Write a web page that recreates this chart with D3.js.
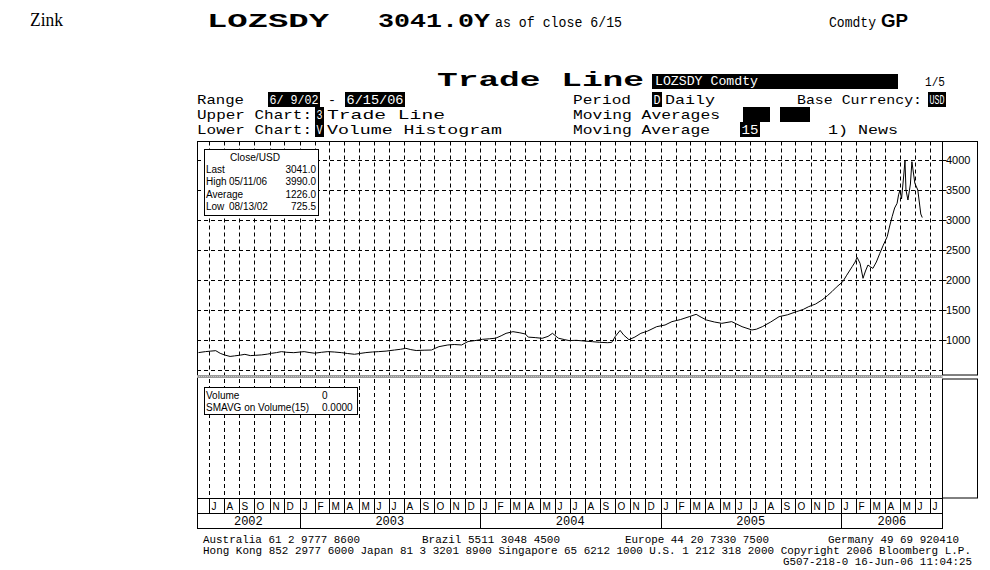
<!DOCTYPE html>
<html><head><meta charset="utf-8">
<script src="https://cdn.jsdelivr.net/npm/d3@7"></script>
<style>body{margin:0;background:#fff}svg{display:block}</style>
</head><body>
<svg id="c" width="990" height="570"></svg>
<script>
// ---------------- DATA ----------------
const dates = ["2002-06-10","2002-06-24","2002-07-05","2002-07-15","2002-07-24","2002-08-02","2002-08-13","2002-08-22","2002-09-03","2002-09-12","2002-09-23","2002-10-04","2002-10-16","2002-10-28","2002-11-05","2002-11-15","2002-11-25","2002-12-06","2002-12-20","2003-01-10","2003-01-20","2003-01-31","2003-02-14","2003-02-27","2003-03-12","2003-03-27","2003-04-08","2003-04-22","2003-05-05","2003-05-15","2003-05-28","2003-06-10","2003-06-25","2003-07-12","2003-07-24","2003-08-04","2003-08-14","2003-08-25","2003-09-10","2003-09-25","2003-10-02","2003-10-10","2003-10-28","2003-11-10","2003-11-25","2003-12-08","2003-12-22","2004-01-06","2004-01-20","2004-02-02","2004-02-13","2004-02-23","2004-03-08","2004-03-22","2004-04-02","2004-04-08","2004-04-22","2004-05-06","2004-05-18","2004-05-27","2004-06-08","2004-06-21","2004-06-30","2004-07-14","2004-07-28","2004-08-16","2004-08-30","2004-09-15","2004-09-24","2004-10-01","2004-10-11","2004-10-18","2004-10-29","2004-11-10","2004-11-22","2004-12-06","2004-12-24","2005-01-10","2005-01-24","2005-02-10","2005-02-28","2005-03-14","2005-03-24","2005-04-04","2005-04-20","2005-05-05","2005-05-25","2005-06-15","2005-07-05","2005-07-14","2005-07-26","2005-08-12","2005-08-29","2005-09-15","2005-10-03","2005-10-17","2005-10-28","2005-11-11","2005-11-24","2005-12-05","2005-12-14","2005-12-23","2006-01-05","2006-01-13","2006-01-24","2006-01-30","2006-02-03","2006-02-09","2006-02-15","2006-02-20","2006-02-25","2006-03-02","2006-03-07","2006-03-14","2006-03-21","2006-03-28","2006-04-05","2006-04-10","2006-04-15","2006-04-20","2006-04-25","2006-04-28","2006-05-01","2006-05-04","2006-05-08","2006-05-11","2006-05-13","2006-05-17","2006-05-22","2006-05-25","2006-05-31","2006-06-06","2006-06-12","2006-06-15"];
const closes = [790,806,815,822,778,750,726,735,748,761,740,745,752,765,778,790,806,795,789,806,792,780,795,806,800,789,775,762,778,790,800,806,815,833,845,861,840,825,830,833,860,889,917,925,917,975,990,1011,1020,1030,1070,1111,1139,1120,1100,1048,1040,1028,1060,1111,1030,1005,990,995,985,972,962,955,960,1056,1160,1085,1005,1050,1111,1150,1222,1250,1306,1340,1389,1428,1380,1333,1300,1278,1306,1222,1167,1180,1222,1300,1389,1420,1472,1510,1556,1600,1667,1740,1806,1880,1972,2080,2222,2300,2378,2278,2028,2150,2250,2220,2194,2300,2444,2580,2722,2900,3056,3200,3278,3420,3500,3350,3700,3990,3500,3333,3600,3972,3611,3500,3100,3041];
const yTickValues = [1000,1500,2000,2500,3000,3500,4000];
const gridValues = [500,1000,1500,2000,2500,3000,3500,4000];
const yearLabels = ["2002","2003","2004","2005","2006"];
const monthLetters = ["J","F","M","A","M","J","J","A","S","O","N","D"];
const priceLegendTitle = "Close/USD";
const priceLegendRows = [["Last","","3041.0"],["High","05/11/06","3990.0"],["Average","","1226.0"],["Low","08/13/02","725.5"]];
const volLegendRows = [["Volume","0"],["SMAVG on Volume(15)","0.0000"]];
const footerLines = [
  {t:"Australia 61 2 9777 8600", x:203, len:157, row:0},
  {t:"Brazil 5511 3048 4500", x:422, len:138, row:0},
  {t:"Europe 44 20 7330 7500", x:625, len:144, row:0},
  {t:"Germany 49 69 920410", x:828, len:131, row:0},
  {t:"Hong Kong 852 2977 6000 Japan 81 3 3201 8900 Singapore 65 6212 1000 U.S. 1 212 318 2000 Copyright 2006 Bloomberg L.P.", x:203, len:768, row:1},
  {t:"G507-218-0 16-Jun-06 11:04:25", x:783, len:189, row:2}
];

// ---------------- SETUP ----------------
const svg = d3.select("#c");
svg.append("rect").attr("width",990).attr("height",570).attr("fill","#fff");
const parse = d3.timeParse("%Y-%m-%d");
const series = dates.map((d,i)=>({date:parse(d), v:closes[i]}));

const L = 197, R = 942.5, TOP = 141.5, UB = 375, LT = 379, MB = 498, YB = 513, YE = 528;
const x = d3.scaleTime().domain([new Date(2002,5,7), new Date(2006,6,27)]).range([L, 943]);
const y = d3.scaleLinear().domain([500,4000]).range([370,160]);

const mono = "'Liberation Mono','DejaVu Sans Mono',monospace";
const sans = "'Liberation Sans',Arial,sans-serif";

function txt(g, s, xx, yy, o={}) {
  const t = g.append("text").attr("x",xx).attr("y",yy).text(s)
    .attr("font-family", o.family||mono).attr("font-size", o.size||13)
    .attr("font-weight", o.weight||"normal").attr("fill", o.fill||"#000");
  if (o.len) t.attr("textLength", o.len).attr("lengthAdjust","spacingAndGlyphs");
  if (o.anchor) t.attr("text-anchor", o.anchor);
  return t;
}
function boxTxt(g, s, x0, w, base, o={}) {
  g.append("rect").attr("x",x0).attr("y",base-12).attr("width",w).attr("height",15).attr("fill","#000");
  if (s) txt(g, s, x0+1.5, base, Object.assign({fill:"#fff", len:w-3}, o));
}

// ---------------- HEADER ----------------
const h = svg.append("g");
txt(h,"Zink",30,26,{family:"'Liberation Serif','Times New Roman',serif",size:18,len:33});
txt(h,"LOZSDY",207,27,{size:20,weight:"bold",len:122});
txt(h,"3041.0Y",378,27,{size:20,weight:"bold",len:112});
txt(h,"as of close 6/15",495,27,{size:14,len:127});
txt(h,"Comdty",829,27,{size:14,len:47});
txt(h,"GP",881,27,{size:18,weight:"bold",len:27,family:sans});

txt(h,"Trade Line",437,86,{size:20,weight:"bold",len:207});
boxTxt(h,"",652,246,86);
txt(h,"LOZSDY Comdty",655,85,{size:13,fill:"#fff",len:103});
txt(h,"1/5",925,86,{size:13,len:20});

const r1=104, r2=119, r3=134;
txt(h,"Range",197,r1,{len:47});
boxTxt(h,"6/ 9/02",268,52,r1);
txt(h,"-",328,r1,{len:8});
boxTxt(h,"6/15/06",345,60,r1);
txt(h,"Period",573,r1,{len:58});
boxTxt(h,"D",652,10,r1);
txt(h,"Daily",665,r1,{len:50});
txt(h,"Base Currency:",797,r1,{len:125});
boxTxt(h,"USD",928,18,r1);

txt(h,"Upper Chart:",197,r2,{len:115});
boxTxt(h,"3",315,9,r2);
txt(h,"Trade Line",327,r2,{len:118});
txt(h,"Moving Averages",573,r2,{len:147});
boxTxt(h,"",743,27,r2);
boxTxt(h,"",780,30,r2);

txt(h,"Lower Chart:",197,r3,{len:115});
boxTxt(h,"V",315,9,r3);
txt(h,"Volume Histogram",327,r3,{len:175});
txt(h,"Moving Average",573,r3,{len:137});
boxTxt(h,"15",740,20,r3);
txt(h,"1) News",828,r3,{len:70});

// ---------------- GRID ----------------
const grid = svg.append("g").attr("stroke","#000").attr("stroke-width",1).attr("stroke-dasharray","4,3");
const months = d3.timeMonth.range(new Date(2002,6,1), new Date(2006,7,1));
grid.selectAll("line.hv").data(gridValues).join("line")
  .attr("x1",L).attr("x2",R).attr("y1",d=>Math.round(y(d))+0.5).attr("y2",d=>Math.round(y(d))+0.5);
grid.selectAll("line.vu").data(months).join("line").attr("class","vu")
  .attr("x1",d=>Math.round(x(d))+0.5).attr("x2",d=>Math.round(x(d))+0.5).attr("y1",TOP).attr("y2",UB);
const grid2 = svg.append("g").attr("stroke","#000").attr("stroke-width",1).attr("stroke-dasharray","4,3");
grid2.selectAll("line").data(months).join("line")
  .attr("x1",d=>Math.round(x(d))+0.5).attr("x2",d=>Math.round(x(d))+0.5).attr("y1",LT).attr("y2",MB);

// ---------------- FRAMES ----------------
const fr = svg.append("g").attr("stroke","#000").attr("fill","none").attr("stroke-width",1);
fr.append("line").attr("x1",L).attr("x2",978).attr("y1",TOP).attr("y2",TOP);
fr.append("line").attr("x1",L+0.5).attr("x2",L+0.5).attr("y1",TOP).attr("y2",YE);
fr.append("rect").attr("x",R).attr("y",TOP).attr("width",35).attr("height",UB-TOP);
fr.append("rect").attr("x",R).attr("y",LT).attr("width",35).attr("height",MB-LT);
svg.append("rect").attr("x",L).attr("y",375).attr("width",R-L).attr("height",3).attr("fill","#9a9a9a");
svg.append("line").attr("x1",L).attr("x2",R).attr("y1",376.5).attr("y2",376.5).attr("stroke","#c8c8c8").attr("stroke-dasharray","1,1");

// ---------------- RIGHT AXIS ----------------
const ax = svg.append("g").attr("transform",`translate(${R},0)`)
  .call(d3.axisRight(y).tickValues(yTickValues).tickSize(4).tickPadding(0).tickFormat(d3.format("d")));
ax.select(".domain").remove();
ax.selectAll("text").attr("font-family",sans).attr("font-size",11).attr("fill","#000").attr("dy","0.35em").attr("x",3.5);
ax.selectAll("line").attr("stroke","#000");

// ---------------- PRICE LINE ----------------
svg.append("path").datum(series)
  .attr("d", d3.line().x(d=>x(d.date)).y(d=>y(d.v)))
  .attr("fill","none").attr("stroke","#000").attr("stroke-width",1);

// ---------------- LEGENDS ----------------
const lg = svg.append("g");
lg.append("rect").attr("x",204.5).attr("y",149.5).attr("width",114).attr("height",66).attr("fill","#fff").attr("stroke","#000");
txt(lg,priceLegendTitle,230,161,{family:sans,size:10,len:50});
priceLegendRows.forEach((r,i)=>{
  const by = 173 + i*12.3;
  txt(lg,r[0],206,by,{family:sans,size:10});
  if (r[1]) txt(lg,r[1],229,by,{family:sans,size:10});
  txt(lg,r[2],316,by,{family:sans,size:10,anchor:"end"});
});
lg.append("rect").attr("x",204.5).attr("y",387.5).attr("width",153).attr("height",27).attr("fill","#fff").attr("stroke","#000");
volLegendRows.forEach((r,i)=>{
  const by = 399 + i*12;
  txt(lg,r[0],206,by,{family:sans,size:10});
  txt(lg,r[1],322,by,{family:sans,size:10});
});

// ---------------- DATE AXIS ----------------
const da = svg.append("g");
da.append("line").attr("x1",L).attr("x2",943).attr("y1",MB+0.5).attr("y2",MB+0.5).attr("stroke","#000");
da.append("line").attr("x1",L).attr("x2",943).attr("y1",YB+0.5).attr("y2",YB+0.5).attr("stroke","#000");
da.append("line").attr("x1",L).attr("x2",943).attr("y1",YE+0.5).attr("y2",YE+0.5).attr("stroke","#000");
da.append("line").attr("x1",942.5).attr("x2",942.5).attr("y1",MB).attr("y2",YE).attr("stroke","#000");
da.selectAll("line.ms").data(months).join("line").attr("class","ms")
  .attr("x1",d=>Math.round(x(d))+0.5).attr("x2",d=>Math.round(x(d))+0.5).attr("y1",MB).attr("y2",YB).attr("stroke","#000");
da.selectAll("text.ml").data(months).join("text").attr("class","ml")
  .attr("x",d=>Math.round(x(d))+2.5).attr("y",YB-3).text(d=>monthLetters[d.getMonth()])
  .attr("font-family",sans).attr("font-size",10).attr("fill","#000");
const yearStarts = yearLabels.map(s=>new Date(+s,0,1));
da.selectAll("line.ys").data(yearStarts.slice(1)).join("line").attr("class","ys")
  .attr("x1",d=>Math.round(x(d))+0.5).attr("x2",d=>Math.round(x(d))+0.5).attr("y1",YB).attr("y2",YE).attr("stroke","#000");
da.selectAll("text.yl").data(yearLabels).join("text").attr("class","yl")
  .attr("x",(s,i)=>{const a=Math.max(L,x(yearStarts[i])); const b=Math.min(943,x(new Date(+s+1,0,1))); return (a+b)/2;})
  .attr("y",YE-3).attr("text-anchor","middle").text(s=>s)
  .attr("font-family",mono).attr("font-size",12).attr("fill","#000");

// ---------------- FOOTER ----------------
const ft = svg.append("g");
footerLines.forEach(f=>{
  txt(ft,f.t,f.x,543+f.row*11,{size:10.5,len:f.len});
});
</script>
</body></html>
